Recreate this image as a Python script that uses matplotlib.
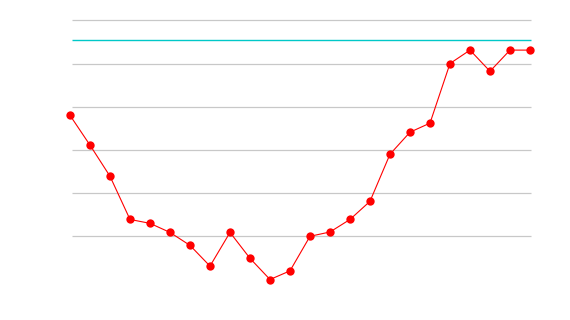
import numpy as np
from matplotlib import pyplot as plt

# Series (one point per step)
values = [3.80, 3.11, 2.39, 1.39, 1.30, 1.09, 0.79, 0.31, 1.09, 0.49,
          0.00, 0.20, 1.00, 1.10, 1.39, 1.81, 2.90, 3.41, 3.62, 5.00,
          5.31, 4.82, 5.31, 5.31]
steps = np.arange(len(values))
grid_levels = [1, 2, 3, 4, 5, 6]
target = 5.54

fig = plt.figure(figsize=(5.7, 3.2), dpi=100)
ax = fig.add_axes([70 / 570, (320 - 279.5) / 320, 460 / 570, (279.5 - 20.3) / 320])

ax.set_xlim(0, 23)
ax.set_ylim(0, 6)

# Gridlines start slightly right of the first point
ax.hlines(grid_levels, 0.1, 23.05, colors='#c8c8c8', linewidth=0.9, clip_on=False, zorder=1)
ax.hlines(target, 0.1, 23.05, colors='#00c8c8', linewidth=1.0, clip_on=False, zorder=2)

ax.plot(steps, values, c='red', linewidth=0.8, marker='o', markersize=6,
        markeredgewidth=0, clip_on=False, zorder=3)

ax.axis('off')

plt.savefig('out.png', dpi=100)
